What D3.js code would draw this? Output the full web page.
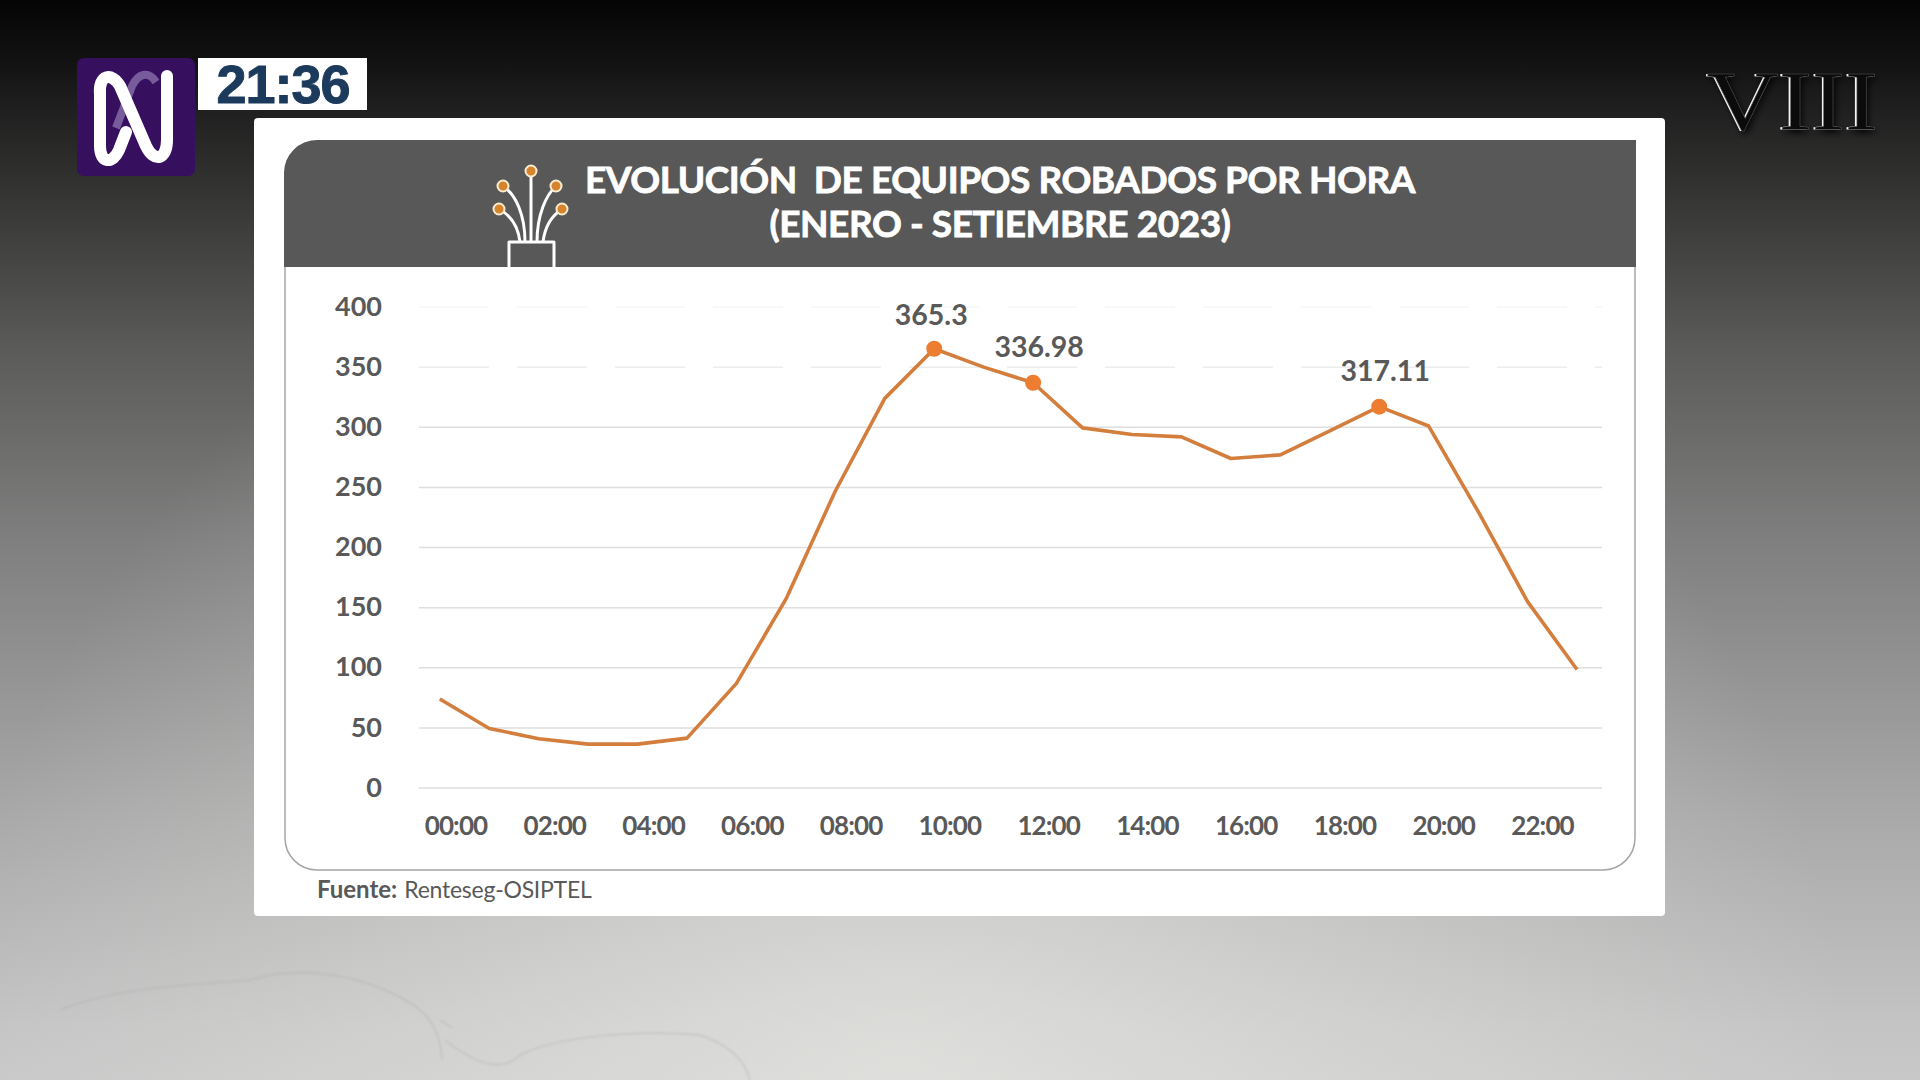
<!DOCTYPE html>
<html><head><meta charset="utf-8">
<script src="https://cdn.jsdelivr.net/npm/d3@7"></script>
<style>html,body{margin:0;padding:0;background:#000;overflow:hidden}svg{display:block}text{font-family:Lato,sans-serif}</style>
</head><body><svg id="c" width="1920" height="1080"></svg>
<script>
const hours = ["00:00","01:00","02:00","03:00","04:00","05:00","06:00","07:00","08:00","09:00","10:00","11:00","12:00","13:00","14:00","15:00","16:00","17:00","18:00","19:00","20:00","21:00","22:00","23:00"];
const robados = [74,49.5,41,36.5,36.5,41.5,87,157,247,324,365.3,350,336.98,299.5,294,292,274,277,297,317.11,301,230,155,98.5];
const destacados = ["10:00","12:00","19:00"];
const etiquetas = ["365.3","336.98","317.11"];
const ticksY = [0,50,100,150,200,250,300,350,400];
const ticksX = ["00:00","02:00","04:00","06:00","08:00","10:00","12:00","14:00","16:00","18:00","20:00","22:00"];
const titulo = ["EVOLUCIÓN  DE EQUIPOS ROBADOS POR HORA","(ENERO - SETIEMBRE 2023)"];

const svg = d3.select("#c");
const defs = svg.append("defs");
const bg = defs.append("linearGradient").attr("id","bg").attr("x1",0).attr("x2",0).attr("y1",0).attr("y2",1);
[[0,"#050505"],[0.05,"#101010"],[0.1,"#1f1f1f"],[0.2,"#3a3a38"],[0.32,"#5a5a58"],[0.5,"#7f7f7f"],[0.75,"#a8a8a8"],[0.95,"#c4c4c4"],[1,"#c8c8c8"]].forEach(d=>bg.append("stop").attr("offset",d[0]).attr("stop-color",d[1]));
svg.append("rect").attr("width",1920).attr("height",1080).attr("fill","url(#bg)");
const glow = defs.append("radialGradient").attr("id","glow").attr("gradientUnits","userSpaceOnUse").attr("cx",900).attr("cy",1100).attr("r",950);
glow.append("stop").attr("offset",0).attr("stop-color","#eeeeea").attr("stop-opacity",0.6);
glow.append("stop").attr("offset",1).attr("stop-color","#eeeeea").attr("stop-opacity",0);
svg.append("rect").attr("width",1920).attr("height",1080).attr("fill","url(#glow)");
defs.append("filter").attr("id","soft").append("feGaussianBlur").attr("stdDeviation",1.1);
defs.append("filter").attr("id","shadow").append("feGaussianBlur").attr("stdDeviation",3);

// faint cracks in the backdrop
svg.append("g").attr("fill","none").attr("stroke","#a9a9a9").attr("stroke-width",1.5).attr("opacity",0.4).attr("filter","url(#soft)")
  .selectAll("path").data([
   "M60 1010C120 985 200 985 250 980C300 965 350 975 385 990C420 1005 440 1020 442 1060",
   "M445 1040C470 1060 500 1075 520 1055C560 1035 640 1030 700 1035C730 1045 745 1060 750 1080",
   "M440 1020L452 1028"]).join("path").attr("d",d=>d);

// card
svg.append("rect").attr("x",254).attr("y",118).attr("width",1411).attr("height",798).attr("rx",4).attr("fill","#fff");
svg.append("rect").attr("x",285).attr("y",141).attr("width",1350).attr("height",729).attr("rx",32).attr("fill","#fff").attr("stroke","#a5a5a5").attr("stroke-width",1.5);
const hdr = d3.path();
hdr.moveTo(284,267);hdr.lineTo(284,173);hdr.arcTo(284,140,317,140,33);hdr.lineTo(1636,140);hdr.lineTo(1636,267);hdr.closePath();
svg.append("path").attr("d",hdr.toString()).attr("fill","#585858");

// title
svg.append("g").selectAll("text").data(titulo).join("text")
  .attr("x",1000).attr("y",(d,i)=>193+i*44).attr("text-anchor","middle")
  .attr("fill","#fff").attr("stroke","#fff").attr("stroke-width",0.8).attr("font-size",37).attr("font-weight",700).attr("letter-spacing",-0.45).style("white-space","pre").text(d=>d);

// icon
const ic = svg.append("g").attr("fill","none").attr("stroke","#fff").attr("stroke-width",3);
ic.append("path").attr("d","M509 267V242H554V267").attr("stroke-linejoin","round");
[["M520 242C518 225 510 215 499 209",499,209],["M525 242C525 215 516 195 503 186",503,186],["M531 242V171",531,171],["M537 242C537 215 546 195 556 186",556,186],["M543 242C545 225 553 215 562 209",562,209]].forEach(d=>{
  ic.append("path").attr("d",d[0]);
  ic.append("circle").attr("cx",d[1]).attr("cy",d[2]).attr("r",5.5).attr("fill","#d6842c").attr("stroke","#f8ecd2").attr("stroke-width",2);
});

// scales
const y = d3.scaleLinear().domain([0,400]).range([788,307]);
const x = d3.scalePoint().domain(hours).range([439.8,1577]);
const xLab = d3.scalePoint().domain(ticksX).range([455.5,1542]);

svg.append("g").selectAll("line").data(ticksY).join("line")
  .attr("x1",419).attr("x2",1602).attr("y1",d=>y(d)).attr("y2",d=>y(d))
  .attr("stroke",d=>d==400?"#f8f8f8":d==350?"#ececec":"#dedede").attr("stroke-width",1.5)
  .attr("stroke-dasharray",d=>d>=350?"70 28":null);

const axY = svg.append("g").attr("transform","translate(382,-0.5)").call(d3.axisLeft(y).tickValues(ticksY).tickSize(0).tickPadding(0));
axY.select(".domain").remove();
axY.selectAll("text").attr("font-size",27).attr("font-weight",700).attr("fill","#595959").style("font-family","Lato");
const axX = svg.append("g").attr("transform","translate(0,817)").call(d3.axisBottom(xLab).tickSize(0).tickPadding(0));
axX.select(".domain").remove();
axX.selectAll("text").attr("font-size",26).attr("font-weight",700).attr("letter-spacing",-0.9).attr("fill","#595959").style("font-family","Lato");

// line
svg.append("path").datum(robados).attr("fill","none").attr("stroke","#d47e3e").attr("stroke-width",3.6).attr("stroke-linejoin","round")
  .attr("d",d3.line().x((d,i)=>x(hours[i])).y(d=>y(d)));
const pts = destacados.map((h,i)=>({h,v:robados[hours.indexOf(h)],t:etiquetas[i]}));
svg.append("g").selectAll("circle").data(pts).join("circle").attr("cx",d=>x(d.h)).attr("cy",d=>y(d.v)).attr("r",8).attr("fill","#ed7d31");
svg.append("g").selectAll("text").data(pts).join("text").attr("x",(d,i)=>x(d.h)+[-3,6,6][i]).attr("y",(d,i)=>y(d.v)+[-24,-26,-26][i])
  .attr("text-anchor","middle").attr("font-size",28.5).attr("font-weight",700).attr("fill","#595959").text(d=>d.t);

// source
const src = svg.append("text").attr("x",317).attr("y",898).attr("font-size",23).attr("fill","#595959");
src.append("tspan").attr("font-weight",700).attr("font-size",24).text("Fuente:");
src.append("tspan").attr("dx",7).attr("letter-spacing",-0.25).text("Renteseg-OSIPTEL");

// logo
svg.append("rect").attr("x",77).attr("y",58).attr("width",118).attr("height",118).attr("rx",7).attr("fill","#360f5f");
svg.append("path").attr("d","M156 82C148 70 138 74 132 86L116 128").attr("fill","none").attr("stroke","#8f75ad").attr("stroke-width",8).attr("opacity",0.75);
svg.append("path").attr("d","M100 95C98 74 112 72 120 86L146 146C154 163 167 160 167 140V76")
  .attr("fill","none").attr("stroke","#fff").attr("stroke-width",12).attr("stroke-linecap","round").attr("stroke-linejoin","round");
svg.append("path").attr("d","M100 90V146C100 164 113 164 119 150L126 132")
  .attr("fill","none").attr("stroke","#fff").attr("stroke-width",12).attr("stroke-linecap","round");
svg.append("rect").attr("x",198).attr("y",58).attr("width",169).attr("height",52).attr("fill","#fff");
svg.append("text").attr("x",283).attr("y",103).attr("text-anchor","middle").attr("font-size",54).attr("font-weight",700).attr("letter-spacing",-1).attr("fill","#1c3a5c").attr("stroke","#1c3a5c").attr("stroke-width",1).style("font-family","Liberation Sans").text("21:36");

// VIII
const roman = svg.append("g").attr("transform","translate(1705,130) scale(1.17,1)").attr("font-size",85);
roman.append("text").attr("x",3).attr("y",3).attr("fill","#000").attr("filter","url(#shadow)").style("font-family","Liberation Serif").text("VIII");
roman.append("text").attr("fill","#f4f4f4").style("font-family","Liberation Serif").text("VIII");
roman.append("text").attr("x",1.6).attr("fill","#0b0b0b").attr("stroke","#5a5a5a").attr("stroke-width",0.5).style("font-family","Liberation Serif").text("VIII");
</script></body></html>
